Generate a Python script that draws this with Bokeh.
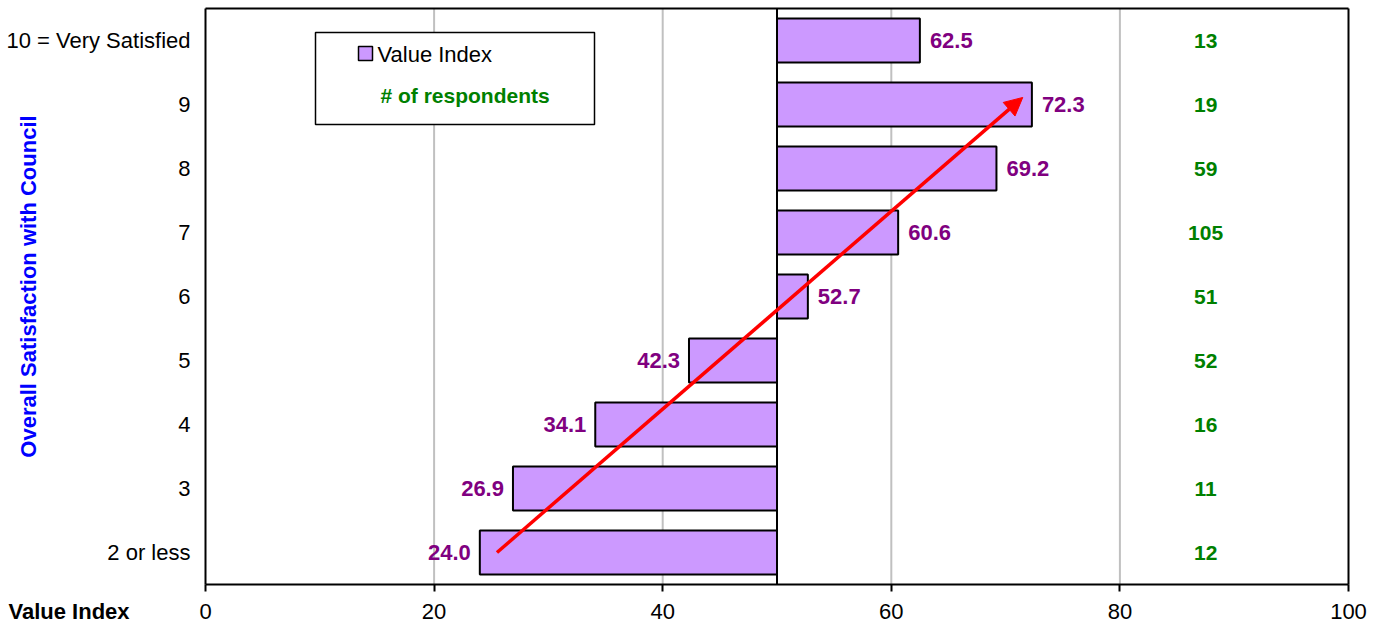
import math
from bokeh.plotting import figure
from bokeh.models import (Range1d, FixedTicker, Label, ColumnDataSource,
                          Arrow, NormalHead, BoxAnnotation)
from bokeh.embed import file_html
from bokeh.resources import INLINE
from bokeh.core.properties import value

# ---------------- data ----------------
categories = ["2 or less", "3", "4", "5", "6", "7", "8", "9", "10 = Very Satisfied"]
value_index = [24.0, 26.9, 34.1, 42.3, 52.7, 60.6, 69.2, 72.3, 62.5]
respondents = [12, 11, 16, 52, 51, 105, 59, 19, 13]
x_ticks = [0, 20, 40, 60, 80, 100]
baseline = 50
trend_x = [25.5, 71.5]
trend_y = [0.5, 7.61]

FONT = "Liberation Sans"
BAR_FILL = "#cc99ff"
PURPLE = "#800080"
GREEN = "#008000"

n = len(categories)
pos = [i + 0.5 for i in range(n)]

# frame fills the whole canvas; the plotting box is (0..100) x (0..n)
W, H = 1381, 625
box_l, box_r, box_t, box_b = 205, 1348, 8, 584
sx = (box_r - box_l) / 100.0
sy = (box_b - box_t) / float(n)
x0 = -box_l / sx
x1 = 100 + (W - box_r) / sx
y0 = -(H - box_b) / sy
y1 = n + box_t / sy

p = figure(width=W, height=H,
           x_range=Range1d(x0, x1), y_range=Range1d(y0, y1),
           output_backend="svg", toolbar_location=None,
           min_border=0)
p.background_fill_color = "white"
p.border_fill_color = "white"
p.outline_line_color = None
p.xgrid.grid_line_color = None
p.ygrid.grid_line_color = None

# x axis (fixed at y = 0)
p.xaxis.fixed_location = 0
p.xaxis.bounds = (0, 100)
p.xaxis.ticker = FixedTicker(ticks=x_ticks)
p.xaxis.axis_line_color = "black"
p.xaxis.axis_line_width = 2
p.xaxis.major_tick_in = 0
p.xaxis.major_tick_out = 7
p.xaxis.major_tick_line_width = 2
p.xaxis.minor_tick_line_color = None
p.xaxis.major_label_text_font = FONT
p.xaxis.major_label_text_font_size = "22px"
p.xaxis.major_label_text_color = "black"
p.xaxis.major_label_standoff = 12

# y axis (fixed at x = 0)
p.yaxis.fixed_location = 0
p.yaxis.bounds = (0, n)
p.yaxis.ticker = FixedTicker(ticks=pos)
p.yaxis.major_label_overrides = {pp: c for pp, c in zip(pos, categories)}
p.yaxis.axis_line_color = "black"
p.yaxis.axis_line_width = 2
p.yaxis.major_tick_in = 0
p.yaxis.major_tick_out = 0
p.yaxis.minor_tick_line_color = None
p.yaxis.major_label_text_font = FONT
p.yaxis.major_label_text_font_size = "22px"
p.yaxis.major_label_text_color = "black"
p.yaxis.major_label_standoff = 15

# vertical grid lines inside the plotting box
grid_x = [t for t in x_ticks if 0 < t < 100]
p.segment(x0=grid_x, y0=[0] * len(grid_x), x1=grid_x, y1=[n] * len(grid_x),
          line_color="#c0c0c0", line_width=2)

# bars
src = ColumnDataSource(dict(y=pos, right=value_index, left=[baseline] * n))
p.hbar(y="y", left="left", right="right", height=0.69, source=src,
       fill_color=BAR_FILL, line_color="black", line_width=2)

# baseline at 50
p.segment(x0=[baseline], y0=[0], x1=[baseline], y1=[n],
          line_color="black", line_width=2)

# plot box outline (top / right)
p.segment(x0=[0, 100], y0=[n, 0], x1=[100, 100], y1=[n, n],
          line_color="black", line_width=2)

# value labels
hi = [(v, y) for v, y in zip(value_index, pos) if v >= baseline]
lo = [(v, y) for v, y in zip(value_index, pos) if v < baseline]
p.text(x=[v for v, _ in hi], y=[y for _, y in hi], text=["%.1f" % v for v, _ in hi],
       x_offset=10, text_align="left", text_baseline="middle",
       text_font=value(FONT), text_font_style="bold", text_font_size="22px",
       text_color=PURPLE)
p.text(x=[v for v, _ in lo], y=[y for _, y in lo], text=["%.1f" % v for v, _ in lo],
       x_offset=-9, text_align="right", text_baseline="middle",
       text_font=value(FONT), text_font_style="bold", text_font_size="22px",
       text_color=PURPLE)

# respondent counts
p.text(x=[87.5] * n, y=pos, text=[str(r) for r in respondents],
       text_align="center", text_baseline="middle",
       text_font=value(FONT), text_font_style="bold", text_font_size="21px",
       text_color=GREEN)

# trend arrow
p.add_layout(Arrow(end=NormalHead(size=18, fill_color="red", line_color="red"),
                   x_start=trend_x[0], y_start=trend_y[0],
                   x_end=trend_x[1], y_end=trend_y[1],
                   line_color="red", line_width=3.5))

# legend box (pixel layout converted into data units)
def dx(px):
    return (px - box_l) / sx


def dy(py):
    return (box_b - py) / sy


p.add_layout(BoxAnnotation(left=dx(315), right=dx(594), bottom=dy(124), top=dy(32),
                           fill_color="white", fill_alpha=1.0,
                           line_color="black", line_width=1.5, line_alpha=1.0))
p.add_layout(BoxAnnotation(left=dx(358), right=dx(372), bottom=dy(60), top=dy(46),
                           fill_color=BAR_FILL, fill_alpha=1.0,
                           line_color="black", line_width=1.5, line_alpha=1.0))
p.add_layout(Label(x=dx(377), y=dy(54), text="Value Index", text_font=FONT,
                   text_font_size="22px", text_color="black",
                   text_baseline="middle", text_align="left"))
p.add_layout(Label(x=dx(380), y=dy(95), text="# of respondents", text_font=FONT,
                   text_font_size="21px", text_font_style="bold", text_color=GREEN,
                   text_baseline="middle", text_align="left"))

# texts outside the plotting box
p.add_layout(Label(x=dx(8), y=dy(611), text="Value Index", text_font=FONT,
                   text_font_size="22px", text_font_style="bold", text_color="black",
                   text_baseline="middle", text_align="left"))
p.add_layout(Label(x=dx(28), y=dy(286), text="Overall Satisfaction with Council",
                   text_font=FONT, text_font_size="22px", text_font_style="bold",
                   text_color="#0000ff", angle=math.pi / 2,
                   text_baseline="middle", text_align="center"))

open("out.html", "w").write(file_html(p, INLINE))
